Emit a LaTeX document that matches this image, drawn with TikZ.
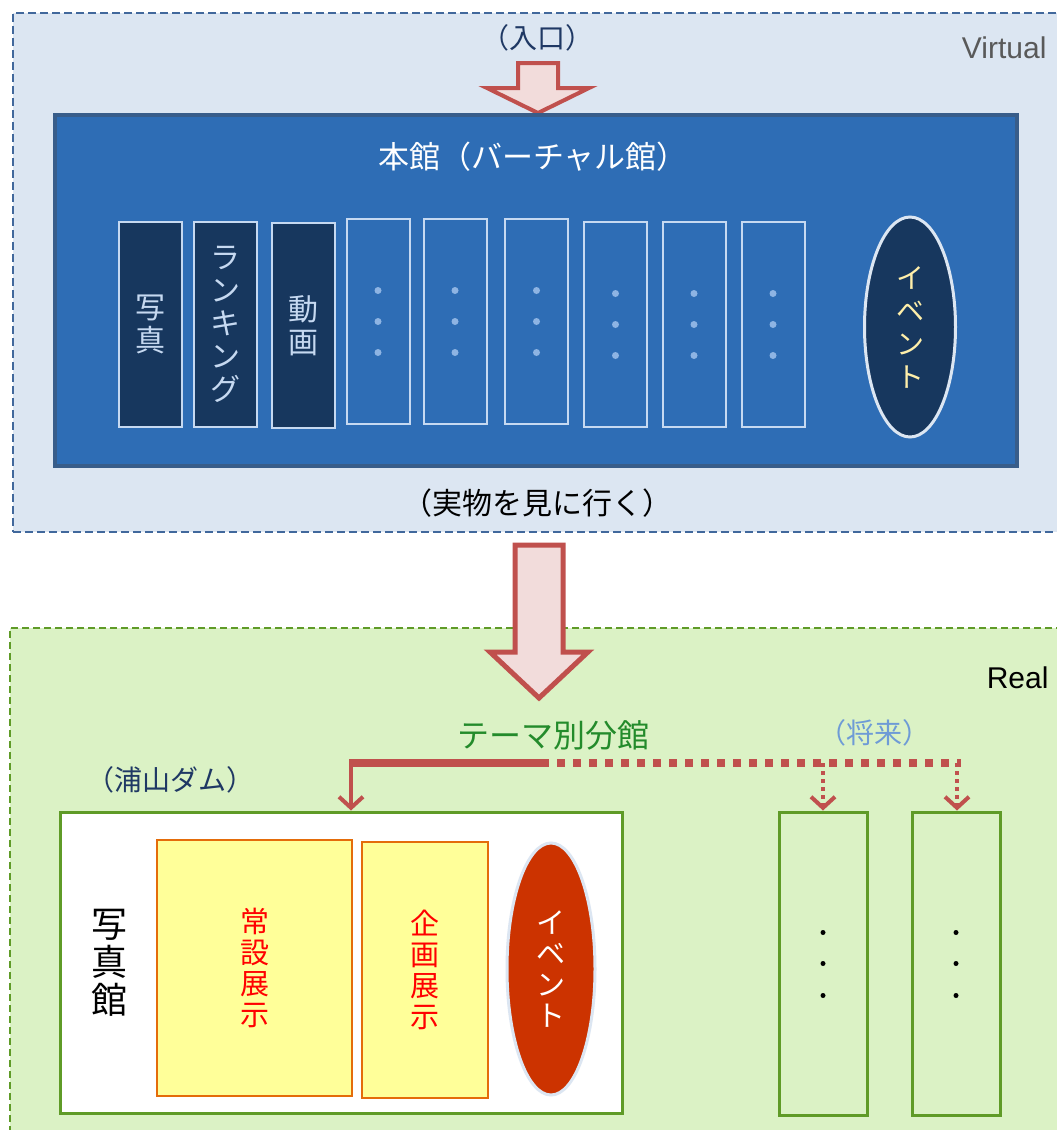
\documentclass[tikz,border=0pt]{standalone}
\usepackage{fontspec}
\setmainfont{Liberation Sans}
\newfontfamily\jp{Noto Sans CJK JP}
\newcommand\jpf[2]{\jp\fontsize{#1}{#2}\selectfont}
\usetikzlibrary{arrows.meta,shapes.geometric}
\definecolor{vfill}{HTML}{DCE6F2}
\definecolor{vdraw}{HTML}{41689C}
\definecolor{mainblue}{HTML}{2E6DB5}
\definecolor{maindraw}{HTML}{385D8A}
\definecolor{navy}{HTML}{17375E}
\definecolor{lightline}{HTML}{C6D9F1}
\definecolor{dotc}{HTML}{8EB4E3}
\definecolor{rfill}{HTML}{DBF2C5}
\definecolor{rdraw}{HTML}{5F9B27}
\definecolor{arrred}{HTML}{C0504D}
\definecolor{arrfill}{HTML}{F2DCDB}
\definecolor{yel}{HTML}{FFFF99}
\definecolor{org}{HTML}{E46C0A}
\definecolor{ered}{HTML}{CC3300}
\definecolor{tgreen}{HTML}{238B2B}
\definecolor{future}{HTML}{6E9BD6}
\definecolor{darknavy}{HTML}{1F3864}
\definecolor{evtxt}{HTML}{FFEFAA}
\begin{document}
\begin{tikzpicture}[x=1pt,y=-1pt,
  box/.style={rectangle,inner sep=0pt,minimum width=#1},
  vcol/.style={box=63pt,minimum height=205pt,draw=lightline,line width=2pt},
  dcol/.style={vcol,fill=navy,text=lightline,font=\jpf{30}{33},align=center},
  ecol/.style={vcol,fill=mainblue},
  vdot/.style={circle,fill=dotc,inner sep=0pt,minimum size=7pt},
  bdot/.style={circle,fill=black,inner sep=0pt,minimum size=5pt},
  blockarrow/.style={draw=arrred,fill=arrfill,line join=miter},
  branch/.style={draw=arrred,line width=8pt},
  drop/.style={draw=arrred,line width=4pt,-{Straight Barb[length=11pt,width=24pt]}},
  yelbox/.style={rectangle,inner sep=0pt,fill=yel,draw=org,line width=2pt,minimum height=256pt,text=red,font=\jpf{29}{31},align=center},
  gbox/.style={rectangle,inner sep=0pt,fill=rfill,draw=rdraw,line width=3pt,minimum width=88pt,minimum height=303pt}
]
\useasboundingbox (0,0) rectangle (1057,1130);
\clip (0,0) rectangle (1057,1130);
% backgrounds
\node[box=1054pt,minimum height=519pt,fill=vfill,draw=vdraw,line width=2.5pt,dash pattern=on 8pt off 4pt] (virtual) at (540,272.5) {};
\node[box=1057pt,minimum height=512pt,fill=rfill,draw=rdraw,line width=2.5pt,dash pattern=on 7pt off 4pt] (real) at (538.5,884) {};
\node[anchor=east,text=black!65,font=\fontsize{30}{32}\selectfont] (vlabel) at (1050,48) {Virtual};
\node[anchor=east,text=black,font=\fontsize{30}{32}\selectfont] (rlabel) at (1052,678) {Real};
% entrance
\node[text=darknavy,font=\jpf{28}{30}] (entry) at (537,38) {（入口）};
\draw[blockarrow,line width=4pt] (518,63) -- (558,63) -- (558,88) -- (589,88) -- (538,113) -- (487,88) -- (518,88) -- cycle;
% main hall
\node[box=962pt,minimum height=351pt,fill=mainblue,draw=maindraw,line width=4pt] (main) at (536,290.5) {};
\node[text=white,font=\jpf{31}{33}] (maintitle) at (533,157) {本館（バーチャル館）};
\node[dcol] (c1) at (150.5,324) {写\\真};
\node[dcol] (c2) at (225,324) {ラ\\ン\\キ\\ン\\グ};
\node[dcol] (c3) at (303,325.5) {動\\画};
\node[ecol] (c4) at (378,321.5) {};
\node[ecol] (c5) at (455,321.5) {};
\node[ecol] (c6) at (536.5,321.5) {};
\node[ecol] (c7) at (615.5,324.5) {};
\node[ecol] (c8) at (694,324.5) {};
\node[ecol] (c9) at (773,324.5) {};
\foreach \c in {c4,c5,c6,c7,c8,c9}{
  \node[vdot] at ([yshift=31pt]\c.center) {};
  \node[vdot] at (\c.center) {};
  \node[vdot] at ([yshift=-31pt]\c.center) {};
}
\node[ellipse,inner sep=0pt,minimum width=91pt,minimum height=220pt,fill=navy,draw=vfill,line width=3pt,text=evtxt,font=\jpf{28}{33},align=center] (vevent) at (910,327) {イ\\ベ\\ン\\ト};
\node[text=black,font=\jpf{30}{32}] (goreal) at (537,503) {（実物を見に行く）};
% big arrow
\draw[blockarrow,line width=5pt] (515,545) -- (563,545) -- (563,652) -- (588,652) -- (539,698) -- (490,652) -- (515,652) -- cycle;
% real section
\node[text=tgreen,font=\jpf{32}{34}] (theme) at (553,735) {テーマ別分館};
\node[text=future,font=\jpf{28}{30}] (future) at (874,733) {（将来）};
\node[text=darknavy,font=\jpf{28}{30}] (urayama) at (170,780) {（浦山ダム）};
\node[box=562pt,minimum height=301pt,fill=white,draw=rdraw,line width=3pt] (photo) at (341,962.5) {};
\node[text=black,font=\jpf{36}{38},align=center] (phototxt) at (109,963) {写\\真\\館};
\node[yelbox,minimum width=195pt] (perm) at (254.5,968) {常\\設\\展\\示};
\node[yelbox,minimum width=126pt] (plan) at (425,970) {企\\画\\展\\示};
\node[ellipse,inner sep=0pt,minimum width=88pt,minimum height=252pt,fill=ered,draw=vfill,line width=3pt,text=white,font=\jpf{29}{31},align=center] (revent) at (551,969) {イ\\ベ\\ン\\ト};
\node[gbox] (fa) at (823,963.5) {};
\node[gbox] (fb) at (956,963.5) {};
\foreach \c in {fa,fb}{
  \node[bdot] at ([yshift=31pt]\c.center) {};
  \node[bdot] at (\c.center) {};
  \node[bdot] at ([yshift=-32pt]\c.center) {};
}
% branch connectors
\coordinate (bl) at (351,763);
\coordinate (bm) at (541,763);
\coordinate (fa top) at (823,763);
\coordinate (fb top) at (957,763);
\draw[branch] ([xshift=-2pt]bl) -- (bm);
\draw[branch,dash pattern=on 8pt off 8pt] (bm) -- ([xshift=4pt]fb top);
\draw[drop] (bl) -- (bl |- photo.north);
\draw[drop,dash pattern=on 4pt off 4pt] (fa top) -- (fa.north);
\draw[drop,dash pattern=on 4pt off 4pt] (fb top) -- (fb top |- fb.north);
\end{tikzpicture}
\end{document}
